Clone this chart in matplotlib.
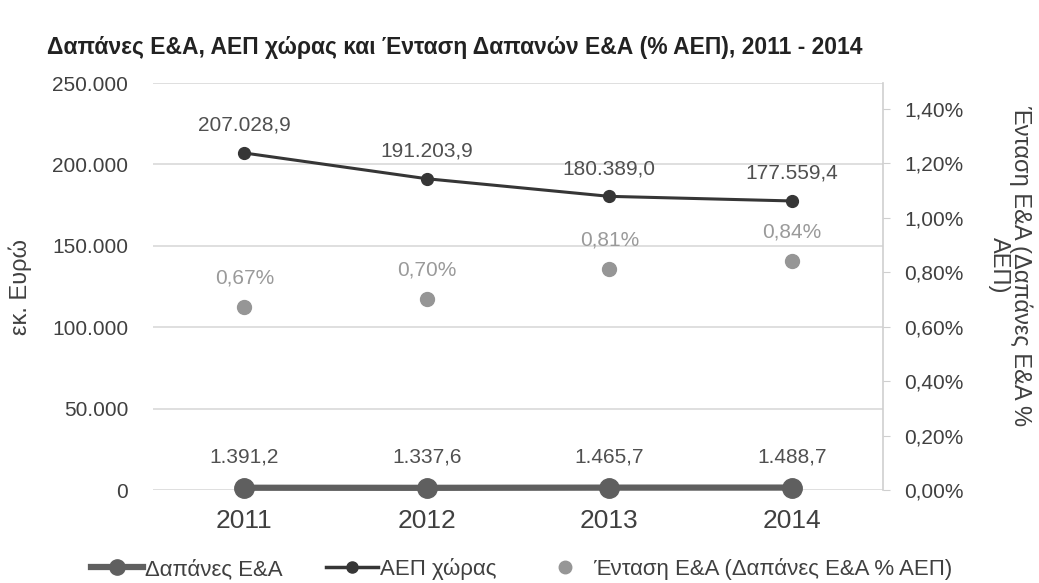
import matplotlib
matplotlib.use("Agg")
import matplotlib.pyplot as plt
from matplotlib.ticker import FuncFormatter, MultipleLocator
from matplotlib.lines import Line2D

plt.rcParams['font.family'] = ['Liberation Sans', 'DejaVu Sans']

# data
years = ['2011', '2012', '2013', '2014']
dapanes = [1391.2, 1337.6, 1465.7, 1488.7]          # εκ. Ευρώ
aep = [207028.9, 191203.9, 180389.0, 177559.4]      # εκ. Ευρώ
entasi = [0.0067, 0.0070, 0.0081, 0.0084]           # % ΑΕΠ
entasi_lbl = ['0,67%', '0,70%', '0,81%', '0,84%']


def gr_num(v, dec=1):
    s = f"{v:,.{dec}f}"
    return s.replace(',', 'X').replace('.', ',').replace('X', '.')


fig = plt.figure(figsize=(10.39, 5.83), dpi=100)
ax = fig.add_axes([0.1473, 0.1595, 0.7026, 0.6981])
ax2 = ax.twinx()

x = range(len(years))

# left axis
ax.set_xlim(-0.5, 3.5)
ax.set_ylim(0, 250000)
ax.yaxis.set_major_locator(MultipleLocator(50000))
ax.yaxis.set_major_formatter(FuncFormatter(lambda v, p: gr_num(v, 0)))
ax.grid(axis='y', color='#d9d9d9', linewidth=1.2)
ax.set_axisbelow(True)
ax.set_xticks(list(x))
ax.set_xticklabels(years, fontsize=19, color='#404040')
ax.tick_params(axis='x', length=0, pad=14)
ax.tick_params(axis='y', length=0, labelsize=15, colors='#404040', pad=18)
for s in ['top', 'left', 'right', 'bottom']:
    ax.spines[s].set_visible(False)
ax.set_ylabel('εκ. Ευρώ', fontsize=17, color='#404040', labelpad=14)

# right axis
ax2.set_ylim(0, 0.01494)
ax2.yaxis.set_major_locator(MultipleLocator(0.002))
ax2.yaxis.set_major_formatter(FuncFormatter(lambda v, p: f"{v*100:.2f}".replace('.', ',') + '%'))
ax2.tick_params(axis='y', length=5, color='#cfcfcf', labelsize=15, labelcolor='#404040', pad=10)
for s in ['top', 'left', 'bottom']:
    ax2.spines[s].set_visible(False)
ax2.spines['right'].set_color('#cfcfcf')
ax2.spines['right'].set_linewidth(1.2)
fig.text(0.972, 0.545, 'Ένταση Ε&Α (Δαπάνες Ε&Α %\nΑΕΠ)', fontsize=17, color='#404040',
         rotation=270, ha='center', va='center', multialignment='center', linespacing=0.95)

# series
ax.plot(x, dapanes, color='#5f5f5f', linewidth=4.5, marker='o', markersize=14,
        zorder=5, clip_on=False)
ax.plot(x, aep, color='#363636', linewidth=2.2, marker='o', markersize=8.5, zorder=5)
ax2.scatter(x, entasi, color='#969696', s=100, zorder=5)

for i in x:
    ax.annotate(gr_num(aep[i]), (i, aep[i]), xytext=(0, 20), textcoords='offset points',
                ha='center', va='center', fontsize=15, color='#505050')
    ax.annotate(gr_num(dapanes[i]), (i, dapanes[i]), xytext=(0, 22), textcoords='offset points',
                ha='center', va='center', fontsize=15, color='#505050')
    ax2.annotate(entasi_lbl[i], (i, entasi[i]), xytext=(0, 21), textcoords='offset points',
                 ha='center', va='center', fontsize=15, color='#9a9a9a')

fig.text(0.045, 0.918, 'Δαπάνες Ε&Α, ΑΕΠ χώρας και Ένταση Δαπανών Ε&Α (% ΑΕΠ), 2011 - 2014',
         fontsize=16.5, fontweight='bold', color='#222222', va='center')

handles = [
    Line2D([], [], color='#5f5f5f', linewidth=4.5, marker='o', markersize=11),
    Line2D([], [], color='#363636', linewidth=2.5, marker='o', markersize=8),
    Line2D([], [], color='#969696', linestyle='none', marker='o', markersize=9),
]
labels = ['Δαπάνες Ε&Α', 'ΑΕΠ χώρας', 'Ένταση Ε&Α (Δαπάνες Ε&Α % ΑΕΠ)']
leg = fig.legend(handles, labels, loc='center', bbox_to_anchor=(0.502, 0.024), ncol=3,
                 frameon=False, fontsize=16, handlelength=2.34, handletextpad=0.09,
                 columnspacing=1.95, borderpad=0)
for t in leg.get_texts():
    t.set_color('#404040')

fig.savefig('out.png', dpi=100)
